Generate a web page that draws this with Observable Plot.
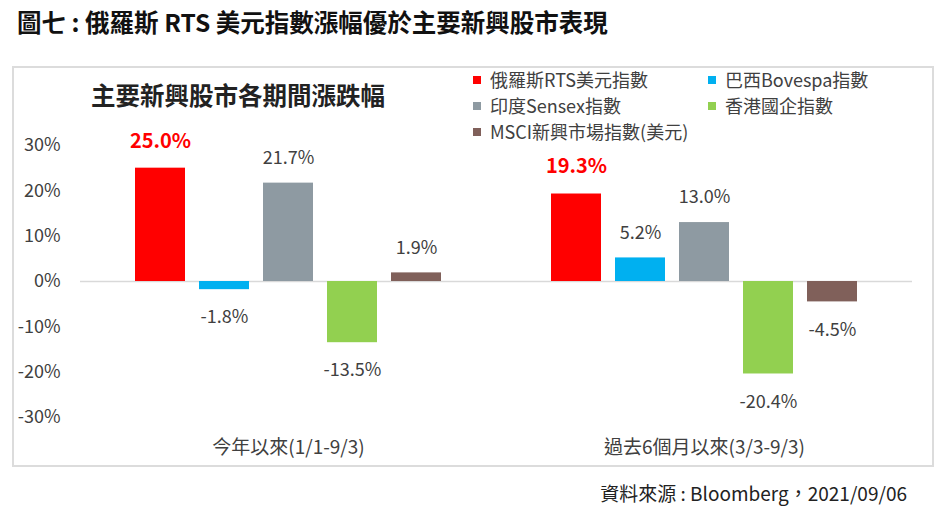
<!DOCTYPE html>
<html><head><meta charset="utf-8">
<script src="https://cdn.jsdelivr.net/npm/d3@7"></script>
<script src="https://cdn.jsdelivr.net/npm/@observablehq/plot@0.6"></script>
<style>
body{margin:0;background:#fff;font-family:"Noto Sans CJK TC","Noto Sans",sans-serif;}
#wrap{position:relative;width:951px;height:512px;overflow:hidden;background:#fff;}
#title{position:absolute;left:17px;top:5px;font-size:24.5px;font-weight:bold;color:#111;line-height:34px;white-space:nowrap;}
#box{position:absolute;left:12px;top:66px;width:922px;height:401px;border:2px solid #DCDCDC;box-sizing:border-box;}
#chart{position:absolute;left:12px;top:66px;}
#subtitle{position:absolute;left:91px;top:78px;font-size:24.5px;font-weight:bold;color:#222;line-height:34px;white-space:nowrap;}
.lg{position:absolute;font-size:18px;color:#404040;line-height:24px;white-space:nowrap;}
.sw{display:inline-block;width:8px;height:8px;margin-right:9px;vertical-align:middle;position:relative;top:-2px;}
#caption{position:absolute;right:44px;top:480px;font-size:19px;color:#222;line-height:26px;white-space:nowrap;}
</style></head><body>
<div id="wrap">
  <div id="title">圖七 : 俄羅斯 RTS 美元指數漲幅優於主要新興股市表現</div>
  <div id="box"></div>
  <div id="chart"></div>
  <div id="subtitle">主要新興股市各期間漲跌幅</div>
  <div id="legend"></div>
  <div id="caption">資料來源 : Bloomberg，2021/09/06</div>
</div>
<script>
const periods = ["今年以來(1/1-9/3)", "過去6個月以來(3/3-9/3)"];
const seriesNames = ["俄羅斯RTS美元指數", "巴西Bovespa指數", "印度Sensex指數", "香港國企指數", "MSCI新興市場指數(美元)"];
const seriesColors = ["#FF0000", "#00B0F0", "#8E9AA2", "#92D050", "#80605A"];
const ytdValues = [25.0, -1.8, 21.7, -13.5, 1.9];
const sixMonthValues = [19.3, 5.2, 13.0, -20.4, -4.5];
const yTicks = [-30, -20, -10, 0, 10, 20, 30];

const rows = [];
seriesNames.forEach((s, i) => rows.push({period: periods[0], series: s, value: ytdValues[i]}));
seriesNames.forEach((s, i) => rows.push({period: periods[1], series: s, value: sixMonthValues[i]}));

const fmt = d => d.value.toFixed(1) + "%";
const font = '"Noto Sans CJK TC","Noto Sans",sans-serif';

const chart = Plot.plot({
  width: 922,
  height: 401,
  marginLeft: 68,
  marginRight: 22,
  marginTop: 79,
  marginBottom: 50,
  style: {fontFamily: font, fontSize: "18px", color: "#404040", background: "transparent"},
  fx: {domain: periods, padding: 0, label: null, axis: null},
  x: {domain: seriesNames, paddingInner: 0.22, paddingOuter: 0.86, axis: null},
  y: {domain: [-30, 30], ticks: yTicks, tickFormat: d => d + "%", tickSize: 0, tickPadding: 20, label: null},
  color: {domain: seriesNames, range: seriesColors},
  marks: [
    Plot.axisFx({anchor: "bottom", tickSize: 0, tickPadding: 23, label: null, fontSize: 19}),
    Plot.ruleY([0], {stroke: "#D9D9D9", strokeWidth: 1.5}),
    Plot.barY(rows, {fx: "period", x: "series", y: "value", fill: "series"}),
    Plot.text(rows.filter(d => d.series !== seriesNames[0] && d.value >= 0),
      {fx: "period", x: "series", y: "value", text: fmt, dy: -25, fill: "#404040", fontSize: 18}),
    Plot.text(rows.filter(d => d.series !== seriesNames[0] && d.value < 0),
      {fx: "period", x: "series", y: "value", text: fmt, dy: 28, fill: "#404040", fontSize: 18}),
    Plot.text(rows.filter(d => d.series === seriesNames[0]),
      {fx: "period", x: "series", y: "value", text: fmt, dy: -27, fill: "#FF0000", fontSize: 20, fontWeight: "bold"})
  ]
});
document.getElementById("chart").appendChild(chart);

const legend = document.getElementById("legend");
const colX = [473, 708];
const rowY = [79, 105, 131];
seriesNames.forEach((s, i) => {
  const el = document.createElement("div");
  el.className = "lg";
  el.style.left = colX[i % 2] + "px";
  el.style.top = (rowY[Math.floor(i / 2)] - 12) + "px";
  const sw = document.createElement("span");
  sw.className = "sw";
  sw.style.background = seriesColors[i];
  el.appendChild(sw);
  el.appendChild(document.createTextNode(s));
  legend.appendChild(el);
});
</script>
</body></html>
